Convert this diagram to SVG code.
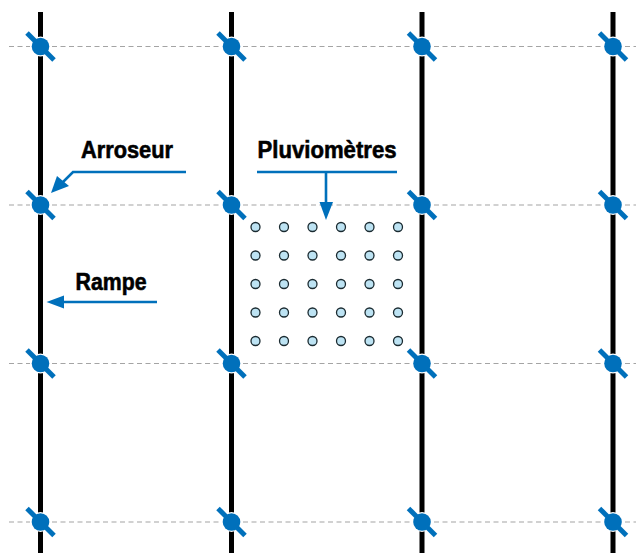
<svg xmlns="http://www.w3.org/2000/svg" width="636" height="553" viewBox="0 0 636 553">
<style>
.pipe{stroke:#000;stroke-width:5;fill:none}
.row{stroke:#a4a4a4;stroke-width:1.1;stroke-dasharray:5 3.5;fill:none}
.arm{stroke:#0070BB;stroke-width:5;fill:none}
.hub{fill:#0070BB}
.halo{fill:#fff}
.g{fill:#BDE3F3;stroke:#1a2a30;stroke-width:1.3}
.lead{stroke:#0070BB;stroke-width:2.6;fill:none}
.head{fill:#0070BB}
.t{font-family:"Liberation Sans Narrow","Liberation Sans",Arial,sans-serif;font-weight:700;font-size:24px;fill:#000;stroke:#000;stroke-width:.6}
</style>
<defs>
<g id="spr"><circle class="halo" r="10"/><line class="arm" x1="-13.500" y1="-13.500" x2="13.500" y2="13.500"/><circle class="hub" r="8.800"/></g>
<circle id="gauge" class="g" r="4.500"/>
</defs>
<g id="pipes">
<line class="pipe" x1="40.5" y1="12" x2="40.5" y2="553"/>
<line class="pipe" x1="231.500" y1="12" x2="231.500" y2="553"/>
<line class="pipe" x1="422" y1="12" x2="422" y2="553"/>
<line class="pipe" x1="613" y1="12" x2="613" y2="553"/>
</g>
<g id="sprinklers">
<use href="#spr" x="40.5" y="46.5"/><use href="#spr" x="231.5" y="46.5"/><use href="#spr" x="422" y="46.5"/><use href="#spr" x="613" y="46.5"/>
<use href="#spr" x="40.5" y="205"/><use href="#spr" x="231.5" y="205"/><use href="#spr" x="422" y="205"/><use href="#spr" x="613" y="205"/>
<use href="#spr" x="40.5" y="363.5"/><use href="#spr" x="231.5" y="363.5"/><use href="#spr" x="422" y="363.5"/><use href="#spr" x="613" y="363.5"/>
<use href="#spr" x="40.5" y="522"/><use href="#spr" x="231.5" y="522"/><use href="#spr" x="422" y="522"/><use href="#spr" x="613" y="522"/>
</g>
<g id="rows">
<line class="row" x1="9" y1="46.5" x2="30" y2="46.5"/><line class="row" x1="52" y1="46.5" x2="221" y2="46.5"/><line class="row" x1="243" y1="46.5" x2="412" y2="46.5"/><line class="row" x1="434" y1="46.5" x2="603" y2="46.5"/><line class="row" x1="625" y1="46.5" x2="636" y2="46.5"/>
<line class="row" x1="9" y1="205" x2="30" y2="205"/><line class="row" x1="52" y1="205" x2="221" y2="205"/><line class="row" x1="243" y1="205" x2="412" y2="205"/><line class="row" x1="434" y1="205" x2="603" y2="205"/><line class="row" x1="625" y1="205" x2="636" y2="205"/>
<line class="row" x1="9" y1="363.5" x2="30" y2="363.5"/><line class="row" x1="52" y1="363.5" x2="221" y2="363.5"/><line class="row" x1="243" y1="363.5" x2="412" y2="363.5"/><line class="row" x1="434" y1="363.5" x2="603" y2="363.5"/><line class="row" x1="625" y1="363.5" x2="636" y2="363.5"/>
<line class="row" x1="9" y1="522" x2="30" y2="522"/><line class="row" x1="52" y1="522" x2="221" y2="522"/><line class="row" x1="243" y1="522" x2="412" y2="522"/><line class="row" x1="434" y1="522" x2="603" y2="522"/><line class="row" x1="625" y1="522" x2="636" y2="522"/>
</g>
<g id="gauges">
<use href="#gauge" x="255.5" y="227"/><use href="#gauge" x="284" y="227"/><use href="#gauge" x="312.5" y="227"/><use href="#gauge" x="341" y="227"/><use href="#gauge" x="369.5" y="227"/><use href="#gauge" x="398" y="227"/>
<use href="#gauge" x="255.5" y="255.5"/><use href="#gauge" x="284" y="255.5"/><use href="#gauge" x="312.5" y="255.5"/><use href="#gauge" x="341" y="255.5"/><use href="#gauge" x="369.5" y="255.5"/><use href="#gauge" x="398" y="255.5"/>
<use href="#gauge" x="255.5" y="284"/><use href="#gauge" x="284" y="284"/><use href="#gauge" x="312.5" y="284"/><use href="#gauge" x="341" y="284"/><use href="#gauge" x="369.5" y="284"/><use href="#gauge" x="398" y="284"/>
<use href="#gauge" x="255.5" y="312.5"/><use href="#gauge" x="284" y="312.5"/><use href="#gauge" x="312.5" y="312.5"/><use href="#gauge" x="341" y="312.5"/><use href="#gauge" x="369.5" y="312.5"/><use href="#gauge" x="398" y="312.5"/>
<use href="#gauge" x="255.5" y="341"/><use href="#gauge" x="284" y="341"/><use href="#gauge" x="312.5" y="341"/><use href="#gauge" x="341" y="341"/><use href="#gauge" x="369.5" y="341"/><use href="#gauge" x="398" y="341"/>
</g>
<g id="connectors">
<path class="lead" d="M186 172H73L62 183"/>
<polygon class="head" points="51,193 57,176 69,186"/>
<path class="lead" d="M157 302H60"/>
<polygon class="head" points="46.500,302 64,295.500 64,308.500"/>
<path class="lead" d="M257 172H397M326 172V205"/>
<polygon class="head" points="326,220 319.500,202 333,202"/>
</g>
<g id="labels">
<text class="t" x="81" y="158" textLength="92" lengthAdjust="spacingAndGlyphs">Arroseur</text>
<text class="t" x="257.500" y="158" textLength="139" lengthAdjust="spacingAndGlyphs">Pluviomètres</text>
<text class="t" x="75.500" y="290" textLength="71" lengthAdjust="spacingAndGlyphs">Rampe</text>
</g>
</svg>
